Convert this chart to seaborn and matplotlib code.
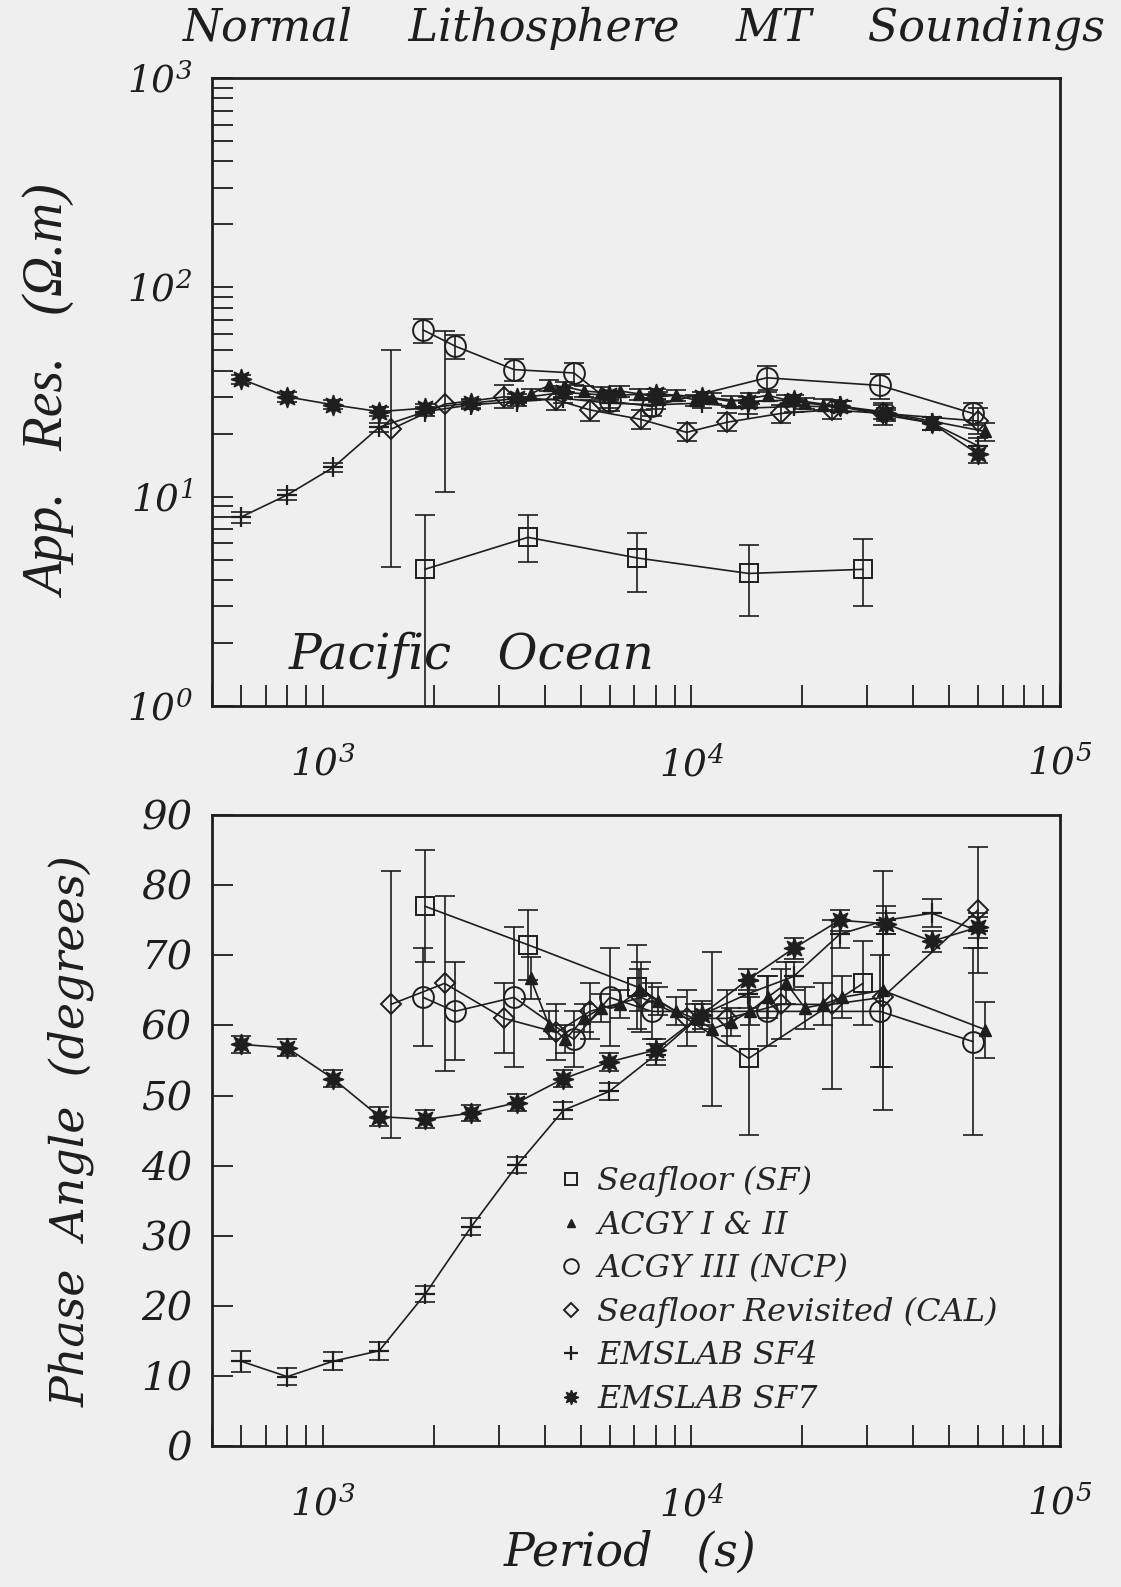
import numpy as np
import matplotlib
matplotlib.use('Agg')
import matplotlib.pyplot as plt
import seaborn as sns
from matplotlib.lines import Line2D
from matplotlib.ticker import LogLocator, MultipleLocator, NullFormatter

# ---- data ----
# EMSLAB SF4 / SF7 periods (s)
emslab_T = [600, 800, 1066, 1422, 1896, 2528, 3370, 4494, 5992, 7990,
            10650, 14200, 18940, 25250, 33670, 44890, 59860]
sf4_rho = [8.0, 10.2, 13.8, 21.5, 25.5, 27.5, 28.5, 29.5, 28.0, 27.5,
           28.0, 26.5, 27.0, 27.0, 24.5, 22.5, 17.5]
sf4_rho_pct = [6, 5, 5, 5, 5, 5, 5, 5, 5, 5, 5, 6, 6, 6, 6, 7, 9]
sf4_phase = [12.1, 9.9, 12.1, 13.6, 21.7, 31.3, 40.1, 47.9, 50.6, 55.8,
             61.5, 64.5, 67.0, 73.0, 75.0, 76.0, 73.5]
sf4_phase_err = [1.5, 1.2, 1.3, 1.3, 1.2, 1.2, 1.2, 1.2, 1.2, 1.5,
                 2.0, 2.0, 2.0, 2.0, 2.0, 2.0, 2.5]

sf7_rho = [36.5, 30.0, 27.5, 25.5, 26.5, 28.0, 29.5, 31.5, 30.5, 31.0,
           30.0, 28.5, 29.0, 27.0, 25.0, 22.5, 16.0]
sf7_rho_pct = [5, 5, 5, 5, 5, 5, 5, 5, 5, 5, 5, 5, 6, 6, 6, 7, 9]
sf7_phase = [57.3, 56.8, 52.4, 47.0, 46.6, 47.5, 49.0, 52.4, 54.8, 56.5,
             61.5, 66.5, 71.0, 75.0, 74.5, 72.0, 74.0]
sf7_phase_err = [1.2, 1.2, 1.2, 1.3, 1.3, 1.2, 1.2, 1.2, 1.3, 1.5,
                 1.5, 1.5, 1.5, 1.5, 1.5, 1.5, 1.5]

# Seafloor (SF)
sf_T = [1890, 3600, 7120, 14300, 29200]
sf_rho = [4.5, 6.4, 5.1, 4.3, 4.5]
sf_rho_lo = [0.5, 4.9, 3.5, 2.7, 3.0]
sf_rho_hi = [8.2, 8.2, 6.7, 5.9, 6.3]
sf_phase = [77.0, 71.5, 65.5, 55.3, 66.0]
sf_phase_err = [8.0, 5.0, 6.0, 11.0, 6.0]

# ACGY I & II
aggy12_T = [3660, 4100, 4550, 5100, 5700, 6400, 7200, 8100, 9100, 10200,
            11400, 12800, 14400, 16100, 18100, 20300, 22800, 25600, 33000, 62600]
aggy12_rho = [31.0, 34.0, 33.5, 32.0, 31.5, 32.0, 31.0, 30.0, 30.5, 29.0,
              29.5, 28.5, 29.5, 30.5, 29.0, 28.0, 27.5, 27.0, 25.5, 20.5]
aggy12_rho_pct = [6, 6, 6, 6, 6, 6, 6, 6, 6, 6, 6, 6, 6, 6, 6, 6, 6, 6, 8, 10]
aggy12_phase = [66.7, 60.1, 58.0, 61.0, 62.5, 63.0, 65.0, 63.5, 62.0, 61.0,
                59.5, 60.5, 62.0, 64.0, 66.0, 62.5, 63.0, 64.0, 65.0, 59.4]
aggy12_phase_err = [3, 2, 2, 2, 2, 2, 3, 2, 2, 2, 11, 2, 2, 3, 3, 3, 3, 3, 17, 4]

# ACGY III (NCP)
ncp_T = [1870, 2280, 3300, 4800, 6000, 7800, 16000, 32500, 58000]
ncp_rho = [62.6, 52.5, 40.5, 39.0, 28.6, 27.0, 37.0, 34.0, 25.0]
ncp_rho_pct = [13, 13, 12, 12, 10, 10, 14, 14, 12]
ncp_phase = [64.0, 62.0, 64.0, 58.0, 64.0, 62.0, 62.0, 62.0, 57.7]
ncp_phase_err = [7.0, 7.0, 10.0, 4.0, 7.0, 4.0, 5.0, 8.0, 13.3]

# Seafloor Revisited (CAL)
cal_T = [1530, 2140, 3100, 4300, 5300, 7300, 9700, 12500, 17500, 24000, 33000, 60000]
cal_rho = [21.0, 27.7, 30.0, 29.0, 26.0, 23.4, 20.3, 22.7, 25.0, 26.0, 25.0, 23.0]
cal_rho_lo = [4.6, 10.5, 26.5, 26.0, 23.0, 21.0, 18.5, 20.5, 22.5, 23.5, 22.0, 20.0]
cal_rho_hi = [50.0, 62.0, 34.0, 32.5, 29.0, 26.0, 22.5, 25.0, 27.5, 29.0, 28.0, 26.5]
cal_phase = [63.0, 66.0, 61.0, 59.0, 62.0, 64.0, 61.0, 61.0, 63.0, 63.0, 64.0, 76.5]
cal_phase_err = [19.0, 12.5, 5.0, 4.0, 4.0, 5.0, 4.0, 4.0, 5.0, 12.0, 10.0, 9.0]

labels = ['Seafloor (SF)', 'ACGY I & II', 'ACGY III (NCP)',
          'Seafloor Revisited (CAL)', 'EMSLAB SF4', 'EMSLAB SF7']

# ---- style ----
sns.set_theme(style='ticks')
plt.rcParams['font.family'] = ['DejaVu Serif']
plt.rcParams['font.style'] = 'italic'
plt.rcParams['mathtext.fontset'] = 'custom'
plt.rcParams['mathtext.rm'] = 'DejaVu Serif:italic'
plt.rcParams['mathtext.it'] = 'DejaVu Serif:italic'

INK = '#1e1e1e'
PAPER = '#efefef'

styles = {
    'Seafloor (SF)': dict(marker='s', markersize=13, markerfacecolor='none', markeredgewidth=1.4),
    'ACGY I & II': dict(marker='^', markersize=9, markerfacecolor=INK, markeredgewidth=1.0),
    'ACGY III (NCP)': dict(marker='o', markersize=15, markerfacecolor='none', markeredgewidth=1.4),
    'Seafloor Revisited (CAL)': dict(marker='D', markersize=10, markerfacecolor='none', markeredgewidth=1.4),
    'EMSLAB SF4': dict(marker='+', markersize=15, markerfacecolor=INK, markeredgewidth=1.6),
    'EMSLAB SF7': dict(marker=(8, 1, 0), markersize=15, markerfacecolor=INK, markeredgewidth=1.0),
}


def draw(ax, T, v, lo, hi, name):
    sns.lineplot(x=T, y=v, ax=ax, color=INK, linewidth=1.2, sort=False,
                 errorbar=None, markeredgecolor=INK, zorder=3, **styles[name])
    ax.errorbar(T, v, yerr=[np.subtract(v, lo), np.subtract(hi, v)], fmt='none',
                ecolor=INK, elinewidth=1.2, capsize=7, capthick=1.2, zorder=2)


def pct_bounds(v, pct):
    v = np.asarray(v)
    p = np.asarray(pct) / 100.0
    return v * (1 - p), v * (1 + p)


def deg_bounds(v, e):
    return np.subtract(v, e), np.add(v, e)


fig = plt.figure(figsize=(11.21, 15.87), dpi=100, facecolor=PAPER)
ax_r = fig.add_axes([0.1891, 0.5551, 0.7565, 0.3957], facecolor=PAPER)
ax_p = fig.add_axes([0.1891, 0.0888, 0.7565, 0.3976], facecolor=PAPER)

# apparent resistivity
draw(ax_r, sf_T, sf_rho, sf_rho_lo, sf_rho_hi, labels[0])
draw(ax_r, aggy12_T, aggy12_rho, *pct_bounds(aggy12_rho, aggy12_rho_pct), labels[1])
draw(ax_r, ncp_T, ncp_rho, *pct_bounds(ncp_rho, ncp_rho_pct), labels[2])
draw(ax_r, cal_T, cal_rho, cal_rho_lo, cal_rho_hi, labels[3])
draw(ax_r, emslab_T, sf4_rho, *pct_bounds(sf4_rho, sf4_rho_pct), labels[4])
draw(ax_r, emslab_T, sf7_rho, *pct_bounds(sf7_rho, sf7_rho_pct), labels[5])

# phase
draw(ax_p, sf_T, sf_phase, *deg_bounds(sf_phase, sf_phase_err), labels[0])
draw(ax_p, aggy12_T, aggy12_phase, *deg_bounds(aggy12_phase, aggy12_phase_err), labels[1])
draw(ax_p, ncp_T, ncp_phase, *deg_bounds(ncp_phase, ncp_phase_err), labels[2])
draw(ax_p, cal_T, cal_phase, *deg_bounds(cal_phase, cal_phase_err), labels[3])
draw(ax_p, emslab_T, sf4_phase, *deg_bounds(sf4_phase, sf4_phase_err), labels[4])
draw(ax_p, emslab_T, sf7_phase, *deg_bounds(sf7_phase, sf7_phase_err), labels[5])

for ax in (ax_r, ax_p):
    ax.set_xscale('log')
    ax.set_xlim(500, 1e5)
    ax.xaxis.set_major_locator(LogLocator(base=10))
    ax.xaxis.set_minor_locator(LogLocator(base=10, subs=np.arange(2, 10)))
    ax.xaxis.set_minor_formatter(NullFormatter())
    ax.tick_params(which='both', direction='in', length=15, width=1.3, color=INK,
                   top=False, right=False, labelsize=27, labelcolor=INK)
    ax.tick_params(axis='x', which='major', pad=29)
    ax.tick_params(axis='y', which='major', pad=14)
    for s in ax.spines.values():
        s.set_linewidth(2.0)
        s.set_color(INK)
    ax.set_xlabel('')
    ax.set_ylabel('')

ax_r.set_yscale('log')
ax_r.set_ylim(1, 1000)
ax_r.yaxis.set_major_locator(LogLocator(base=10))
ax_r.yaxis.set_minor_locator(LogLocator(base=10, subs=np.arange(2, 10)))
ax_r.yaxis.set_minor_formatter(NullFormatter())

ax_p.set_ylim(0, 90)
ax_p.yaxis.set_major_locator(MultipleLocator(10))
ax_p.tick_params(axis='y', labelsize=29)

ax_r.text(0.09, 0.08, 'Pacific   Ocean', transform=ax_r.transAxes, fontsize=35,
          ha='left', va='center', color=INK)

ax_r.set_ylabel('App.   Res.   (\u03a9.m)', family='Liberation Serif', style='italic',
                fontsize=40, color=INK, va='center')
ax_r.yaxis.set_label_coords(-0.19, 0.5)
ax_p.set_ylabel('Phase  Angle  (degrees)', fontsize=33, color=INK, va='center')
ax_p.yaxis.set_label_coords(-0.166, 0.5)
ax_p.set_xlabel('Period   (s)', fontsize=33, color=INK, va='center')
ax_p.xaxis.set_label_coords(0.493, -0.17)

fig.text(0.5747, 0.982, 'Normal    Lithosphere    MT    Soundings', fontsize=32,
         ha='center', va='center', color=INK)

handles = [Line2D([], [], linestyle='none', color=INK, markeredgecolor=INK, **styles[n]) for n in labels]
for h in handles:
    h.set_markersize(h.get_markersize() * 0.7)
ax_p.legend(handles, labels, loc='upper left', bbox_to_anchor=(0.39, 0.464),
            frameon=False, fontsize=23, labelspacing=0.39, handletextpad=0.3,
            handlelength=1.0, borderaxespad=0)

fig.savefig('out.png', dpi=100, facecolor=PAPER)
